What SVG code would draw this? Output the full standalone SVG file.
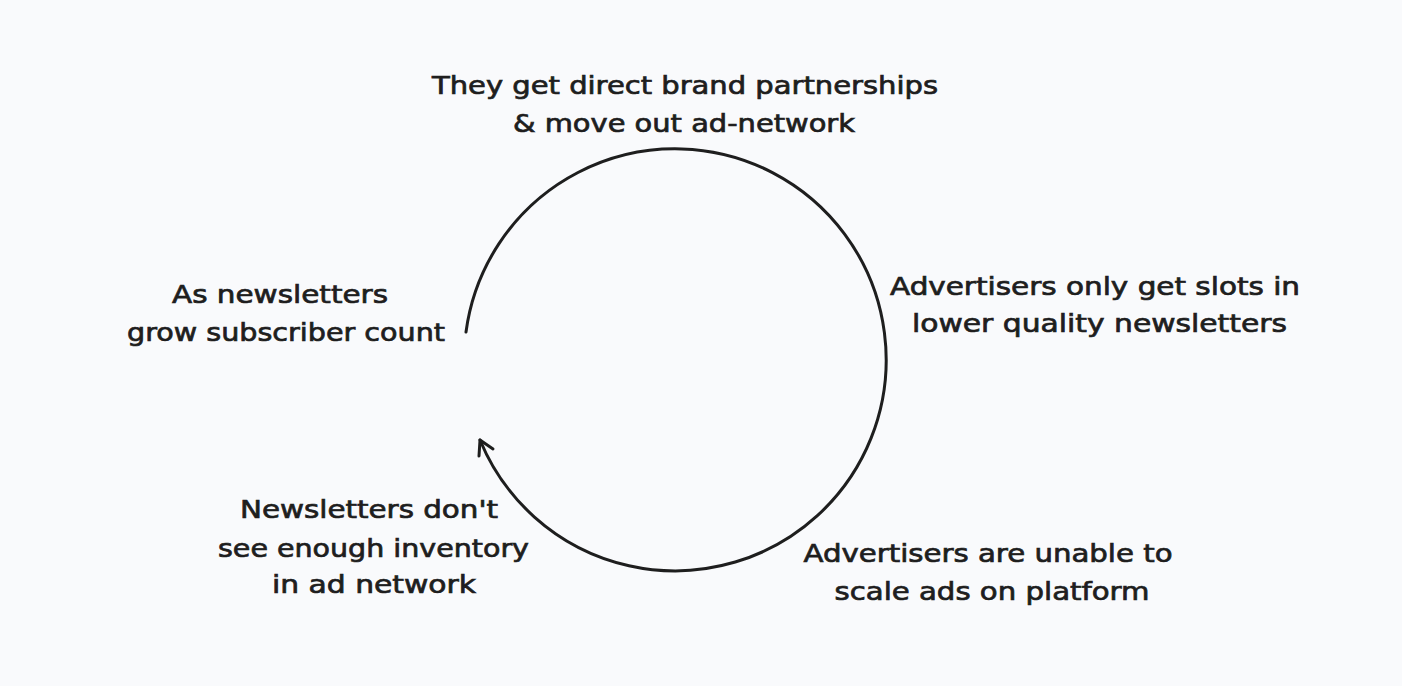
<svg xmlns="http://www.w3.org/2000/svg" width="1402" height="686" viewBox="0 0 1402 686">
<style>
  .lbl { font-family: "DejaVu Sans", "Liberation Sans", sans-serif; font-size: 24px; fill: #1e1e1e; stroke: #1e1e1e; stroke-width: 0.7; text-anchor: middle; }
  .ln { fill: none; stroke: #1e1e1e; stroke-width: 3; stroke-linecap: round; stroke-linejoin: round; }
</style>
<rect x="0" y="0" width="1402" height="686" fill="#f9fafc"/>
<g id="connectors">
  <path class="ln" d="M 466 332 A 211 211 0 1 1 480 440"/>
  <path class="ln" d="M 493 449 L 480 440 L 479 456"/>
</g>
<g id="node-top">
  <text class="lbl" x="685" y="94" textLength="506" lengthAdjust="spacingAndGlyphs">They get direct brand partnerships</text>
  <text class="lbl" x="684" y="132" textLength="342" lengthAdjust="spacingAndGlyphs">&amp; move out ad-network</text>
</g>
<g id="node-right">
  <text class="lbl" x="1095" y="295" textLength="410" lengthAdjust="spacingAndGlyphs">Advertisers only get slots in</text>
  <text class="lbl" x="1099.5" y="332" textLength="375" lengthAdjust="spacingAndGlyphs">lower quality newsletters</text>
</g>
<g id="node-bottom-right">
  <text class="lbl" x="988" y="562" textLength="369" lengthAdjust="spacingAndGlyphs">Advertisers are unable to</text>
  <text class="lbl" x="992" y="600" textLength="315" lengthAdjust="spacingAndGlyphs">scale ads on platform</text>
</g>
<g id="node-bottom-left">
  <text class="lbl" x="369" y="518" textLength="258" lengthAdjust="spacingAndGlyphs">Newsletters don't</text>
  <text class="lbl" x="373.5" y="557" textLength="311" lengthAdjust="spacingAndGlyphs">see enough inventory</text>
  <text class="lbl" x="374" y="593" textLength="204" lengthAdjust="spacingAndGlyphs">in ad network</text>
</g>
<g id="node-left">
  <text class="lbl" x="280" y="303" textLength="216" lengthAdjust="spacingAndGlyphs">As newsletters</text>
  <text class="lbl" x="286" y="341" textLength="318" lengthAdjust="spacingAndGlyphs">grow subscriber count</text>
</g>
</svg>
